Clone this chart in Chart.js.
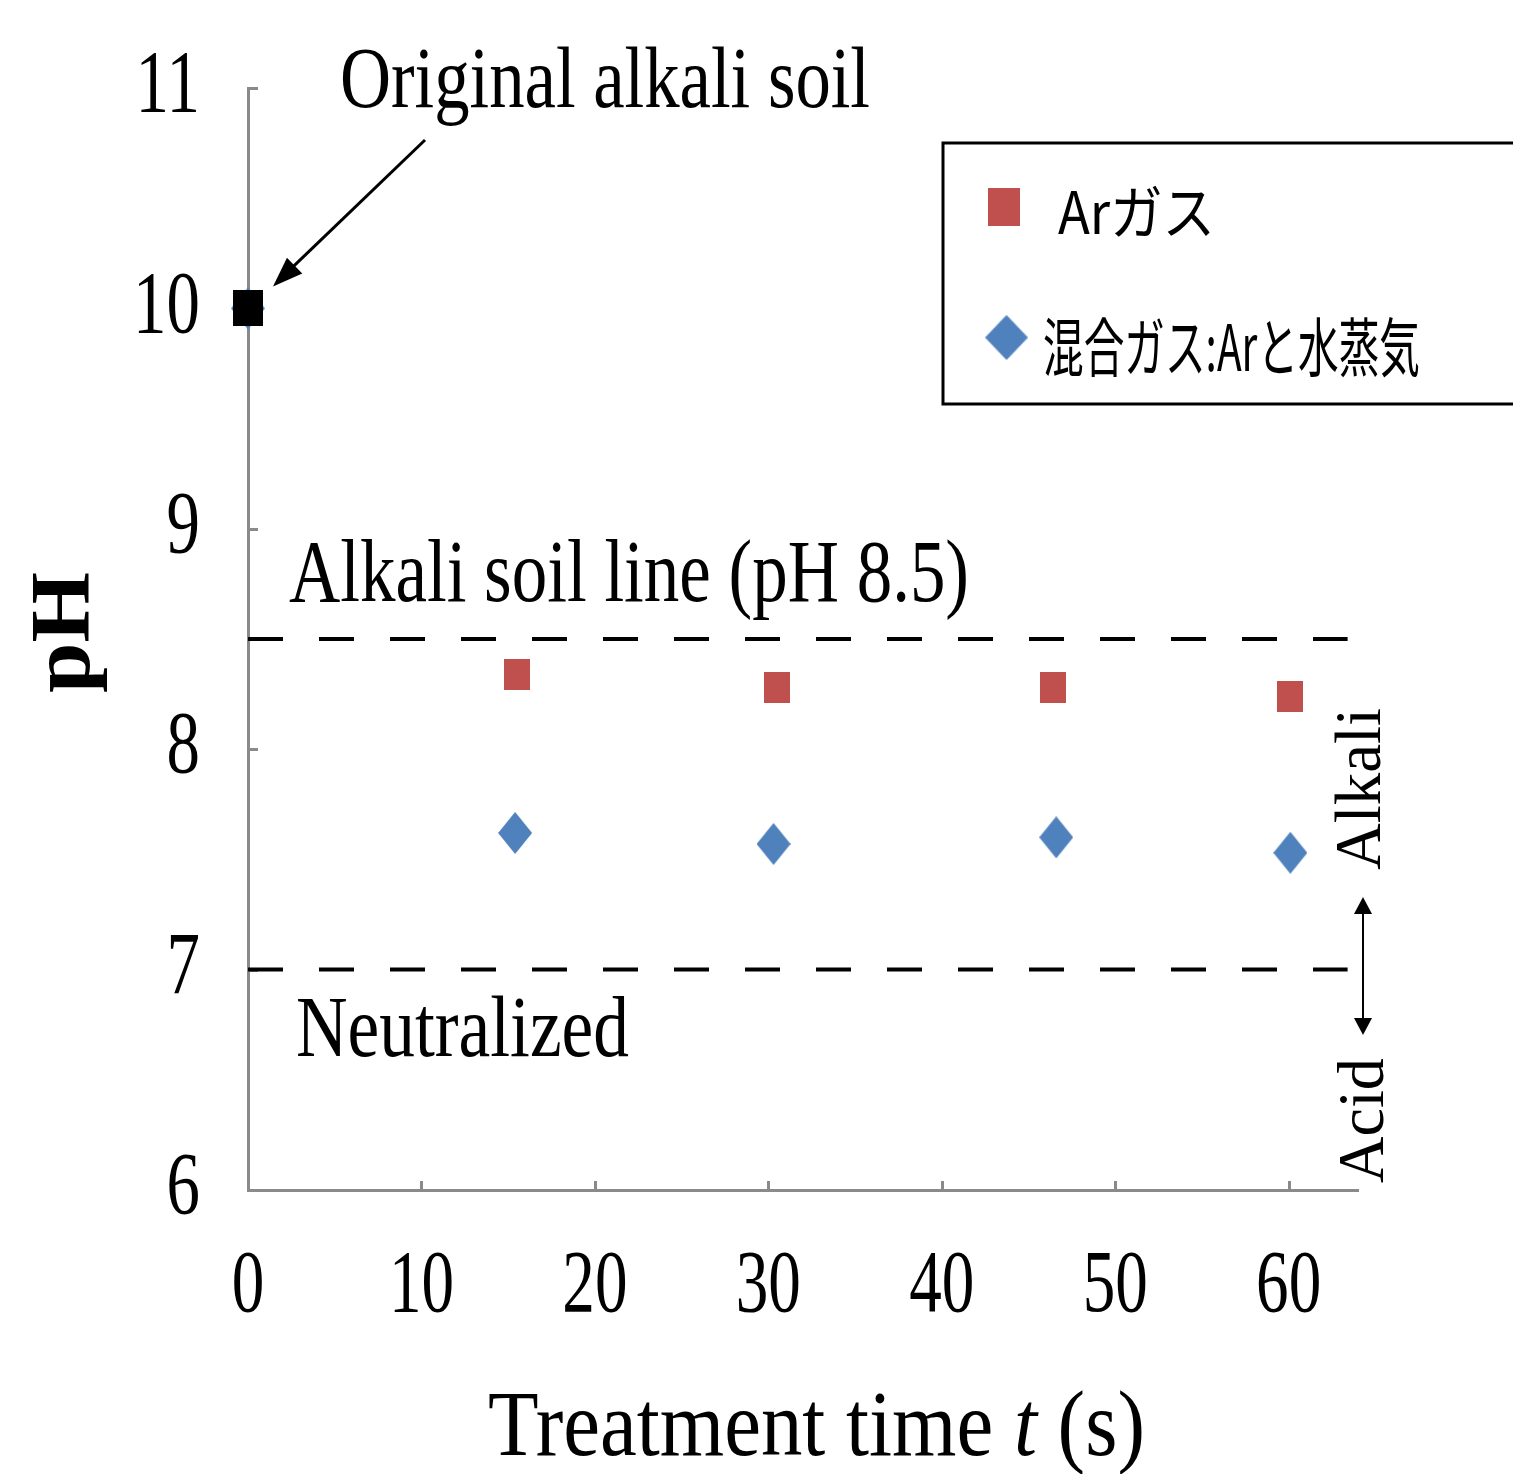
<!DOCTYPE html>
<html>
<head>
<meta charset="utf-8">
<script src="https://cdn.jsdelivr.net/npm/chart.js@4.4.1/dist/chart.umd.min.js"></script>
<style>
html, body { margin: 0; padding: 0; background: #fff; }
#wrap { width: 1513px; height: 1474px; }
</style>
</head>
<body>
<div id="wrap"><canvas id="chart" width="1513" height="1474"></canvas></div>
<script>
// data
const xTicks = [0, 10, 20, 30, 40, 50, 60];
const yTicks = [6, 7, 8, 9, 10, 11];

const timeAr = [15.5, 30.5, 46.4, 60.1];
const phAr = [8.34, 8.28, 8.28, 8.24];

const timeMix = [0, 15.4, 30.3, 46.6, 60.1];
const phMix = [10.0, 7.62, 7.57, 7.60, 7.53];

const timeOrig = [0];
const phOrig = [10.0];

const refLines = [8.5, 7];
const refEnd = 63.4;

const labelAr = 'Arガス';
const labelMix = '混合ガス:Arと水蒸気';

const SERIF = '"Liberation Serif", "DejaVu Serif", serif';
const GOTHIC = '"Noto Sans CJK JP", "Noto Sans", sans-serif';
const RED = '#C0504D';
const BLUE = '#4F81BD';
const AXIS = '#8a8a8a';

function makeMarker(w, h, color, shape) {
    const c = document.createElement('canvas');
    c.width = w; c.height = h;
    const g = c.getContext('2d');
    g.fillStyle = color;
    if (shape === 'diamond') {
        g.beginPath();
        g.moveTo(w / 2, 0); g.lineTo(w, h / 2); g.lineTo(w / 2, h); g.lineTo(0, h / 2);
        g.closePath(); g.fill();
    } else {
        g.fillRect(0, 0, w, h);
    }
    return c;
}
const sqRed = makeMarker(26, 31, RED, 'rect');
const dmBlue = makeMarker(34, 42, BLUE, 'diamond');
const sqBlack = makeMarker(30, 36, '#000', 'rect');

const pts = (xs, ys) => xs.map((x, i) => ({ x, y: ys[i] }));

// text helper: string or runs, squeezed to a given width
function txt(ctx, runs, x, y, o) {
    if (typeof runs === 'string') runs = [{ t: runs }];
    ctx.save();
    const fontOf = r => `${r.style || 'normal'} ${o.weight || 'normal'} ${o.size}px ${o.family || SERIF}`;
    let w = 0;
    runs.forEach(r => { ctx.font = fontOf(r); r.w = ctx.measureText(r.t).width; w += r.w; });
    const sx = o.width ? o.width / w : (o.sx || 1);
    ctx.fillStyle = '#000';
    ctx.textBaseline = o.baseline || 'alphabetic';
    ctx.translate(x, y);
    if (o.rot) ctx.rotate(o.rot);
    ctx.scale(sx, 1);
    let dx = 0;
    if (o.align === 'center') dx = -w / 2;
    else if (o.align === 'right') dx = -w;
    runs.forEach(r => { ctx.font = fontOf(r); ctx.fillText(r.t, dx, 0); dx += r.w; });
    ctx.restore();
}

function arrowHead(ctx, tx, ty, fx, fy, len, half) {
    const a = Math.atan2(ty - fy, tx - fx);
    ctx.beginPath();
    ctx.moveTo(tx, ty);
    ctx.lineTo(tx - len * Math.cos(a) + half * Math.sin(a), ty - len * Math.sin(a) - half * Math.cos(a));
    ctx.lineTo(tx - len * Math.cos(a) - half * Math.sin(a), ty - len * Math.sin(a) + half * Math.cos(a));
    ctx.closePath();
    ctx.fill();
}

const decor = {
    id: 'decor',
    beforeDatasetsDraw(chart) {
        // inner tick marks, under the markers
        const ctx = chart.ctx;
        const xs = chart.scales.x, ys = chart.scales.y;
        const area = chart.chartArea;
        ctx.save();
        ctx.strokeStyle = AXIS;
        ctx.lineWidth = 3;
        yTicks.forEach(v => {
            const py = Math.round(ys.getPixelForValue(v)) + 0.5;
            ctx.beginPath(); ctx.moveTo(area.left, py); ctx.lineTo(area.left + 10, py); ctx.stroke();
        });
        xTicks.slice(1).forEach(v => {
            const px = Math.round(xs.getPixelForValue(v)) + 0.5;
            ctx.beginPath(); ctx.moveTo(px, area.bottom); ctx.lineTo(px, area.bottom - 9); ctx.stroke();
        });
        ctx.restore();
    },
    afterDraw(chart) {
        const ctx = chart.ctx;
        const xs = chart.scales.x, ys = chart.scales.y;
        const area = chart.chartArea;

        // tick labels
        yTicks.forEach(v => {
            txt(ctx, String(v), area.left - 48, ys.getPixelForValue(v), { size: 88, sx: 0.76, align: 'right', baseline: 'middle' });
        });
        xTicks.forEach(v => {
            txt(ctx, String(v), xs.getPixelForValue(v), area.bottom + 98, { size: 88, sx: 0.74, align: 'center', baseline: 'middle' });
        });

        // axis titles
        txt(ctx, 'pH', 89, 693, { size: 84, weight: 'bold', width: 121, rot: -Math.PI / 2 });
        txt(ctx, [{ t: 'Treatment time ' }, { t: 't', style: 'italic' }, { t: ' (s)' }], 488, 1455, { size: 94, width: 657 });

        // annotations
        const y85 = ys.getPixelForValue(8.5), y7 = ys.getPixelForValue(7);
        txt(ctx, 'Alkali soil line (pH 8.5)', 289, y85 - 38, { size: 88, width: 680 });
        txt(ctx, 'Neutralized', 296, y7 + 86, { size: 86, width: 333 });
        txt(ctx, 'Original alkali soil', 340, 107, { size: 86, width: 530 });
        txt(ctx, 'Alkali', 1380, 870, { size: 66, width: 162, rot: -Math.PI / 2 });
        txt(ctx, 'Acid', 1383, 1183, { size: 66, width: 125, rot: -Math.PI / 2 });

        // arrow to the original point
        const ox = xs.getPixelForValue(timeOrig[0]), oy = ys.getPixelForValue(phOrig[0]);
        ctx.save();
        ctx.strokeStyle = '#000'; ctx.fillStyle = '#000'; ctx.lineWidth = 3;
        const tx = ox + 25, ty = oy - 22;
        ctx.beginPath(); ctx.moveTo(425, 140); ctx.lineTo(tx + 10, ty - 10); ctx.stroke();
        arrowHead(ctx, tx, ty, 425, 140, 30, 11);

        // acid / alkali double arrow
        ctx.lineWidth = 2;
        ctx.beginPath(); ctx.moveTo(1363, 910); ctx.lineTo(1363, 1022); ctx.stroke();
        arrowHead(ctx, 1363, 897, 1363, 960, 17, 9);
        arrowHead(ctx, 1363, 1035, 1363, 960, 17, 9);
        ctx.restore();

        // legend box (runs off the right edge)
        ctx.save();
        ctx.strokeStyle = '#000'; ctx.lineWidth = 3;
        ctx.strokeRect(943, 143, 620, 261);
        ctx.drawImage(sqRed, 988, 188, 32, 38);
        ctx.drawImage(dmBlue, 985, 315, 43, 45);
        ctx.restore();
        txt(ctx, labelAr, 1058, 212, { size: 58, width: 157, family: GOTHIC, baseline: 'middle' });
        txt(ctx, labelMix, 1043, 347, { size: 64, width: 377, family: GOTHIC, baseline: 'middle' });
    }
};

const refSets = refLines.map(v => ({
    label: 'pH ' + v,
    data: [{ x: 0, y: v }, { x: refEnd, y: v }],
    showLine: true,
    borderColor: '#000',
    borderWidth: 4,
    borderDash: [35, 36],
    borderCapStyle: 'butt',
    pointRadius: 0,
    order: 5,
    clip: false
}));

new Chart(document.getElementById('chart'), {
    type: 'scatter',
    data: {
        datasets: [
            { label: 'Original alkali soil', data: pts(timeOrig, phOrig), pointStyle: sqBlack, pointRadius: 15, order: 0, clip: false },
            { label: labelAr, data: pts(timeAr, phAr), pointStyle: sqRed, pointRadius: 15, order: 1, clip: false },
            { label: labelMix, data: pts(timeMix, phMix), pointStyle: dmBlue, pointRadius: 15, order: 2, clip: false },
            ...refSets
        ]
    },
    options: {
        responsive: false,
        animation: false,
        events: [],
        layout: { padding: { left: 248, right: 155, top: 88, bottom: 284 } },
        plugins: { legend: { display: false }, tooltip: { enabled: false } },
        scales: {
            x: {
                type: 'linear', min: 0, max: 64,
                afterBuildTicks: s => { s.ticks = xTicks.map(v => ({ value: v })); },
                ticks: { display: false },
                grid: { display: false, drawTicks: false },
                border: { display: true, color: AXIS, width: 3 }
            },
            y: {
                type: 'linear', min: 6, max: 11,
                afterBuildTicks: s => { s.ticks = yTicks.map(v => ({ value: v })); },
                ticks: { display: false },
                grid: { display: false, drawTicks: false },
                border: { display: true, color: AXIS, width: 3 }
            }
        }
    },
    plugins: [decor]
});
</script>
</body>
</html>
